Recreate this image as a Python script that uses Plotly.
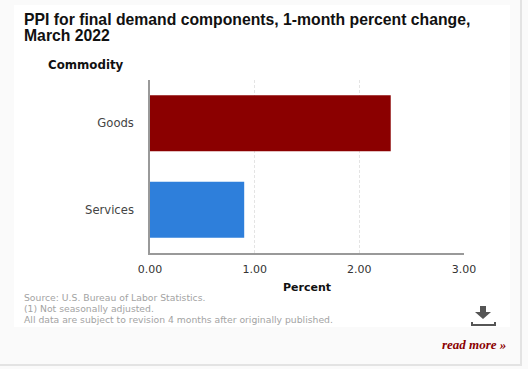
import plotly.graph_objects as go

categories = ["Goods", "Services"]
values = [2.3, 0.9]
bar_colors = ["#8b0000", "#2e7fdb"]
tick_values = [0, 1, 2, 3]
tick_labels = ["0.00", "1.00", "2.00", "3.00"]

W, H = 528, 369
px = lambda v: v / W
py = lambda v: 1 - v / H
DJ = "DejaVu Sans"
LS = "Liberation Sans"

fig = go.Figure(go.Bar(
    y=categories, x=values, orientation="h",
    marker=dict(color=bar_colors, line=dict(width=0)),
    width=0.65,
))

def label(x, y, text, size, color, family=LS, xanchor="left"):
    fig.add_annotation(xref="paper", yref="paper", x=px(x), y=py(y), text=text,
                       showarrow=False, xanchor=xanchor, yanchor="middle", align="left",
                       font=dict(size=size, color=color, family=family), borderpad=0, borderwidth=0)

label(24, 20, "<b>PPI for final demand components, 1-month percent change,</b>", 15.75, "#111111")
label(24, 36, "<b>March 2022</b>", 15.75, "#111111")
label(48, 65, "<b>Commodity</b>", 11.8, "#111111", DJ)
label(307, 287, "<b>Percent</b>", 11, "#111111", DJ, "center")
label(24, 297, "Source: U.S. Bureau of Labor Statistics.", 9.25, "#a3a3a3", DJ)
label(24, 308, "(1) Not seasonally adjusted.", 9.25, "#a3a3a3", DJ)
label(24, 319, "All data are subject to revision 4 months after originally published.", 9.25, "#a3a3a3", DJ)
label(506, 344, "<b><i>read more »</i></b>", 13, "#8b0000", "Liberation Serif", "right")

def box(x0, y0, x1, y1, color):
    fig.add_shape(type="rect", xref="paper", yref="paper", x0=px(x0), x1=px(x1), y0=py(y0), y1=py(y1),
                  fillcolor=color, line=dict(width=0), layer="below")

box(0, 0, 528, 369, "#fafafa")
box(14, 5, 510, 327, "#ffffff")
box(0, 364, 522, 366, "#e3e3e3")
box(520, 0, 522, 366, "#e3e3e3")
# download icon
icon = (f"M {px(480)} {py(306)} L {px(486)} {py(306)} L {px(486)} {py(312)} L {px(491)} {py(312)} "
        f"L {px(483)} {py(319)} L {px(475)} {py(312)} L {px(480)} {py(312)} Z")
fig.add_shape(type="path", xref="paper", yref="paper", path=icon, fillcolor="#555555", line=dict(width=0))
bar = (f"M {px(472)} {py(322)} L {px(472)} {py(325)} L {px(495)} {py(325)} L {px(495)} {py(322)}")
fig.add_shape(type="path", xref="paper", yref="paper", path=bar, line=dict(color="#555555", width=2))

fig.update_layout(
    template="none",
    width=W, height=H, autosize=False,
    margin=dict(l=0, r=0, t=0, b=0),
    paper_bgcolor="#fafafa", plot_bgcolor="rgba(0,0,0,0)",
    showlegend=False,
    xaxis=dict(domain=[px(150), px(464)], range=[0, 3], tickvals=tick_values, ticktext=tick_labels,
               automargin=False,
               showgrid=True, gridcolor="#e4e4e4", griddash="3px,2px", gridwidth=1,
               showline=True, linecolor="#999999", linewidth=1.5, zeroline=False,
               ticks="outside", ticklen=5, tickcolor="rgba(0,0,0,0)",
               tickfont=dict(size=11, color="#333333", family=DJ)),
    yaxis=dict(domain=[py(253), py(80)], autorange="reversed", showgrid=False, automargin=False,
               showline=True, linecolor="#999999", linewidth=1.5, zeroline=False,
               ticks="outside", ticklen=12, tickcolor="rgba(0,0,0,0)",
               tickfont=dict(size=11.6, color="#444444", family=DJ)),
)
fig.write_html("out.html", post_script="document.body.style.margin='0';", config={"displayModeBar": False})
